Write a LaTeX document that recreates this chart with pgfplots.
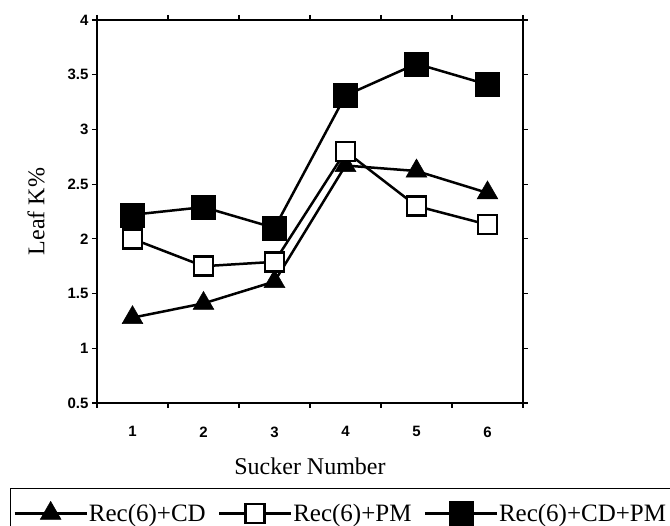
\documentclass[border=0pt]{standalone}
\usepackage{fontspec}
\setmainfont{Liberation Serif}
\newfontfamily\ticksf{Liberation Sans}
\usepackage{pgfplots}
\pgfplotsset{compat=1.18}

\begin{document}
\begin{tikzpicture}
\begin{axis}[
    scale only axis,
    width=426pt, height=383pt,
    xmin=0.5, xmax=6.5,
    ymin=0.5, ymax=4,
    xtick={1,...,6},
    ytick={0.5,1,...,4},
    minor xtick={0.5,1.5,...,6.5},
    minor ytick={0.5,1,...,4},
    major tick length=0pt,
    minor tick length=5pt,
    tick align=outside,
    tick style={black, line width=1.2pt},
    axis line style={line width=1.8pt},
    /pgf/number format/assume math mode=true,
    ticklabel style={font=\ticksf\bfseries\fontsize{15}{17}\selectfont},
    yticklabel style={xshift=-5pt},
    xticklabel style={yshift=-20pt},
    xlabel={Sucker Number},
    ylabel={Leaf K\%},
    label style={font=\fontsize{24}{28}\selectfont},
    xlabel style={at={(axis description cs:0.5,-0.1645)}, anchor=center},
    ylabel style={at={(axis description cs:-0.1432,0.5)}, anchor=center},
    legend columns=3,
    legend style={
        at={(axis description cs:-0.2042,-0.2219)}, anchor=north west,
        draw=black, line width=0.8pt,
        font=\fontsize{25}{29}\selectfont,
        inner xsep=3pt, inner ysep=13pt,
        /tikz/every odd column/.append style={column sep=-1pt},
        /tikz/every even column/.append style={column sep=10pt},
    },
    legend image code/.code={
        \draw[mark repeat=2,mark phase=2,#1]
            plot coordinates {(0pt,0pt) (36pt,0pt) (72pt,0pt)};
    },
]
% Rec(6)+CD
\addplot[black, line width=2.5pt, mark=triangle*, mark size=12pt,
    mark options={solid, fill=black, line width=0.5pt}]
    coordinates {(1,1.28) (2,1.41) (3,1.61) (4,2.67) (5,2.62) (6,2.42)};
\addlegendentry{Rec(6)+CD}
% Rec(6)+PM
\addplot[black, line width=2.5pt, mark=square*, mark size=9.5pt,
    mark options={solid, fill=white, line width=2.5pt}]
    coordinates {(1,2.0) (2,1.75) (3,1.79) (4,2.80) (5,2.30) (6,2.13)};
\addlegendentry{Rec(6)+PM}
% Rec(6)+CD+PM
\addplot[black, line width=2.5pt, mark=square*, mark size=12pt,
    mark options={solid, fill=black, line width=0.5pt}]
    coordinates {(1,2.22) (2,2.29) (3,2.10) (4,3.31) (5,3.60) (6,3.41)};
\addlegendentry{Rec(6)+CD+PM}
\end{axis}
\pgfresetboundingbox
\path[use as bounding box] (-97pt,-123pt) rectangle (573pt,403pt);
\end{tikzpicture}
\end{document}
